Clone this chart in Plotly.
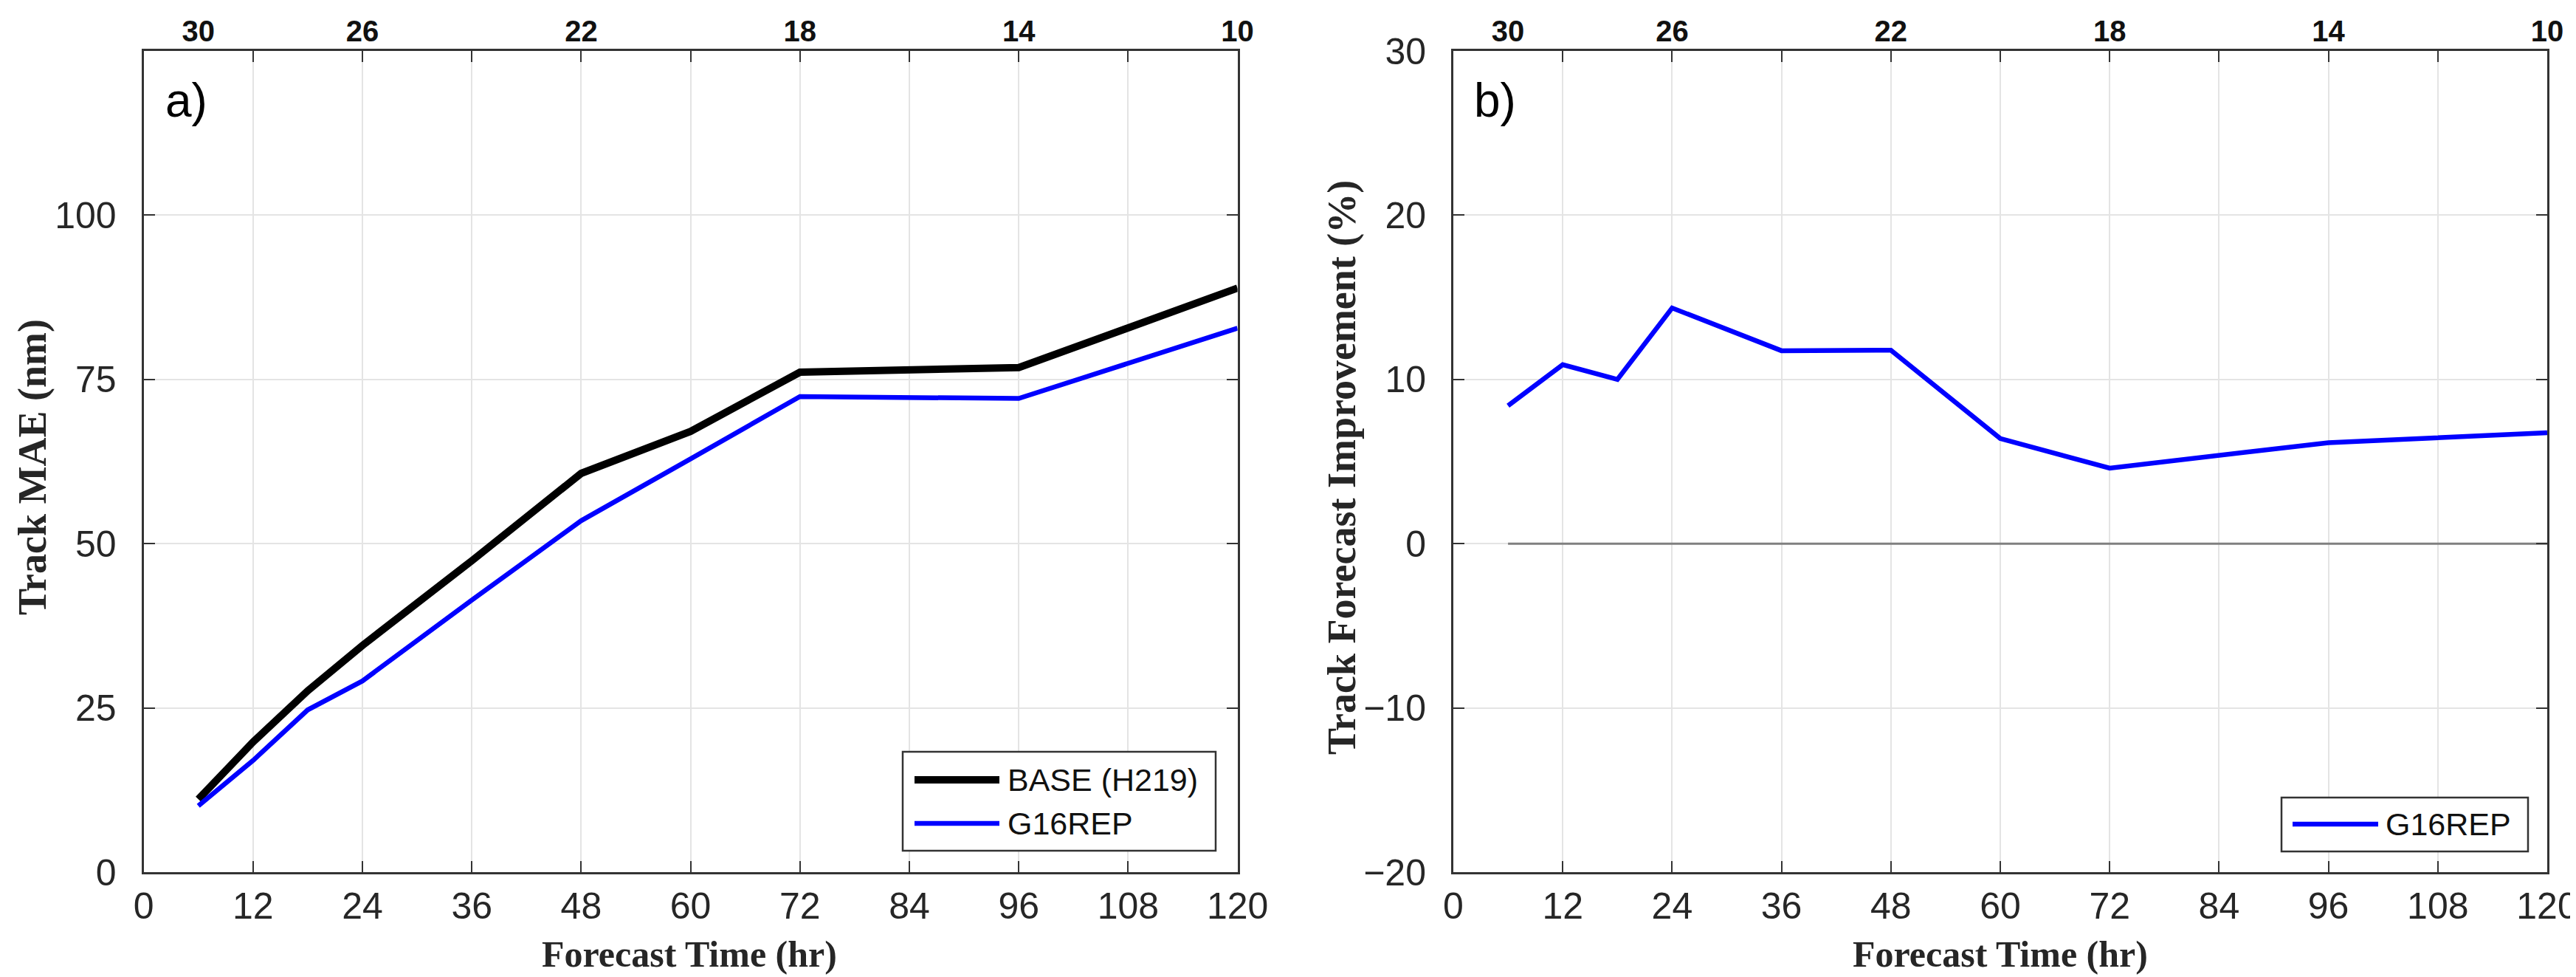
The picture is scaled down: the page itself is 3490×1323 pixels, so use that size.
import plotly.graph_objects as go

# ---------------- data ----------------
forecast_hours = [6, 12, 18, 24, 36, 48, 60, 72, 96, 120]
base_mae = [11.1, 19.8, 27.6, 34.5, 47.4, 60.7, 67.1, 76.1, 76.8, 88.9]
g16rep_mae = [10.1, 17.0, 24.7, 29.1, 41.4, 53.5, 62.9, 72.4, 72.1, 82.8]
g16rep_improvement = [8.4, 10.9, 10.0, 14.35, 11.75, 11.78, 6.4, 4.6, 6.15, 6.75]
zero_ref = [0 for _ in forecast_hours]

bottom_ticks = [0, 12, 24, 36, 48, 60, 72, 84, 96, 108, 120]
top_tick_hours = [6, 24, 48, 72, 96, 120]
top_tick_labels = ["30", "26", "22", "18", "14", "10"]
mae_ticks = [0, 25, 50, 75, 100]
imp_ticks = [-20, -10, 0, 10, 20, 30]

# ---------------- layout helpers ----------------
W, H = 3490, 1323
def px(x):
    return x / W
def py(y):
    return 1 - y / H

AX_COLOR = "#333333"
GRID = "#e4e4e4"
TICK_FONT = dict(family="Liberation Sans, Arial, sans-serif", size=50, color="#262626")
TOP_FONT = dict(family="Liberation Sans, Arial, sans-serif", size=40, color="#111111")
TITLE_FONT = dict(family="Liberation Serif, Times New Roman, serif", size=50, color="#262626")
YTITLE_FONT = dict(family="Liberation Serif, Times New Roman, serif", size=54, color="#262626")
LEG_FONT = dict(family="Liberation Sans, Arial, sans-serif", size=43, color="#111111")

left_dom = [px(186.6), px(1668.6)]
right_dom = [px(1961), px(3443)]
y_dom = [py(1173), py(61)]

fig = go.Figure()

# panel a
fig.add_trace(go.Scatter(x=forecast_hours, y=base_mae, mode="lines", name="BASE (H219)",
                         line=dict(color="#000000", width=10), xaxis="x", yaxis="y",
                         showlegend=False))
fig.add_trace(go.Scatter(x=forecast_hours, y=g16rep_mae, mode="lines", name="G16REP",
                         line=dict(color="#0000ff", width=6.5), xaxis="x", yaxis="y",
                         showlegend=False))
# panel b
fig.add_trace(go.Scatter(x=forecast_hours, y=zero_ref, mode="lines", name="zero",
                         line=dict(color="#808080", width=3), xaxis="x2", yaxis="y2",
                         showlegend=False, hoverinfo="skip"))
fig.add_trace(go.Scatter(x=forecast_hours, y=g16rep_improvement, mode="lines", name="G16REP",
                         line=dict(color="#0000ff", width=6.5), xaxis="x2", yaxis="y2",
                         showlegend=False))
# invisible traces to anchor the top (sample count) axes
fig.add_trace(go.Scatter(x=forecast_hours, y=base_mae, mode="lines", opacity=0,
                         line=dict(width=0), xaxis="x3", yaxis="y", showlegend=False,
                         hoverinfo="skip"))
fig.add_trace(go.Scatter(x=forecast_hours, y=g16rep_improvement, mode="lines", opacity=0,
                         line=dict(width=0), xaxis="x4", yaxis="y2", showlegend=False,
                         hoverinfo="skip"))

common_x = dict(range=[0, 120], tickvals=bottom_ticks, ticks="inside", ticklen=15,
                tickwidth=2, tickcolor=AX_COLOR, showline=True, linewidth=3,
                linecolor=AX_COLOR, mirror="ticks", showgrid=True, gridcolor=GRID,
                gridwidth=2, zeroline=False, tickfont=TICK_FONT, automargin=False,
                ticklabelstandoff=0)
common_y = dict(ticks="inside", ticklen=15, tickwidth=2, tickcolor=AX_COLOR,
                showline=True, linewidth=3, linecolor=AX_COLOR, mirror="ticks",
                showgrid=True, gridcolor=GRID, gridwidth=2, zeroline=False,
                tickfont=TICK_FONT, automargin=False, ticklabelstandoff=24)
top_x = dict(range=[0, 120], side="top", tickmode="array", tickvals=top_tick_hours,
             ticktext=top_tick_labels, ticks="", showgrid=False, showline=False,
             zeroline=False, automargin=False, ticklabelstandoff=4,
             tickfont=dict(TOP_FONT, weight="bold"))

fig.update_layout(
    width=W, height=H,
    margin=dict(l=0, r=0, t=0, b=0),
    paper_bgcolor="white", plot_bgcolor="white",
    xaxis=dict(common_x, domain=left_dom, anchor="y"),
    yaxis=dict(common_y, domain=y_dom, range=[0, 125], tickvals=mae_ticks, anchor="x"),
    xaxis2=dict(common_x, domain=right_dom, anchor="y2"),
    yaxis2=dict(common_y, domain=y_dom, range=[-20, 30], tickvals=imp_ticks, anchor="x2"),
    xaxis3=dict(top_x, overlaying="x", anchor="y"),
    xaxis4=dict(top_x, overlaying="x2", anchor="y2"),
    showlegend=False,
)

annotations = []
# axis titles
for cx in (926, 2702):
    annotations.append(dict(text="<b>Forecast Time (hr)</b>", x=px(cx), y=py(1284),
                            xref="paper", yref="paper", showarrow=False,
                            xanchor="center", yanchor="middle", font=TITLE_FONT))
annotations.append(dict(text="<b>Track MAE (nm)</b>", x=px(36), y=py(625),
                        xref="paper", yref="paper", showarrow=False, textangle=-90,
                        xanchor="center", yanchor="middle", font=YTITLE_FONT))
annotations.append(dict(text="<b>Track Forecast Improvement (%)</b>", x=px(1810), y=py(625),
                        xref="paper", yref="paper", showarrow=False, textangle=-90,
                        xanchor="center", yanchor="middle", font=YTITLE_FONT))
# panel labels
annotations.append(dict(text="a)", x=px(214), y=py(128), xref="paper", yref="paper",
                        showarrow=False, xanchor="left", yanchor="middle",
                        font=dict(family="Liberation Sans, Arial, sans-serif", size=64,
                                  color="#000000")))
annotations.append(dict(text="b)", x=px(1987), y=py(128), xref="paper", yref="paper",
                        showarrow=False, xanchor="left", yanchor="middle",
                        font=dict(family="Liberation Sans, Arial, sans-serif", size=64,
                                  color="#000000")))

# legends (drawn as box + line samples + labels)
shapes = []
def legend_box(x0, y0, x1, y1):
    shapes.append(dict(type="rect", xref="paper", yref="paper", x0=px(x0), x1=px(x1),
                       y0=py(y1), y1=py(y0), line=dict(color="#333333", width=2.5),
                       fillcolor="white", layer="above"))
def legend_item(x0, x1, yy, color, width, label, tx):
    shapes.append(dict(type="line", xref="paper", yref="paper", x0=px(x0), x1=px(x1),
                       y0=py(yy), y1=py(yy), line=dict(color=color, width=width),
                       layer="above"))
    annotations.append(dict(text=label, x=px(tx), y=py(yy), xref="paper", yref="paper",
                            showarrow=False, xanchor="left", yanchor="middle",
                            font=LEG_FONT))

legend_box(1215, 1010, 1639, 1144)
legend_item(1231, 1346, 1048, "#000000", 10, "BASE (H219)", 1355)
legend_item(1231, 1346, 1107, "#0000ff", 6.5, "G16REP", 1355)

legend_box(3083, 1072, 3417, 1145)
legend_item(3098, 3214, 1108, "#0000ff", 6.5, "G16REP", 3222)

fig.update_layout(annotations=annotations, shapes=shapes)

fig.write_html("out.html")
